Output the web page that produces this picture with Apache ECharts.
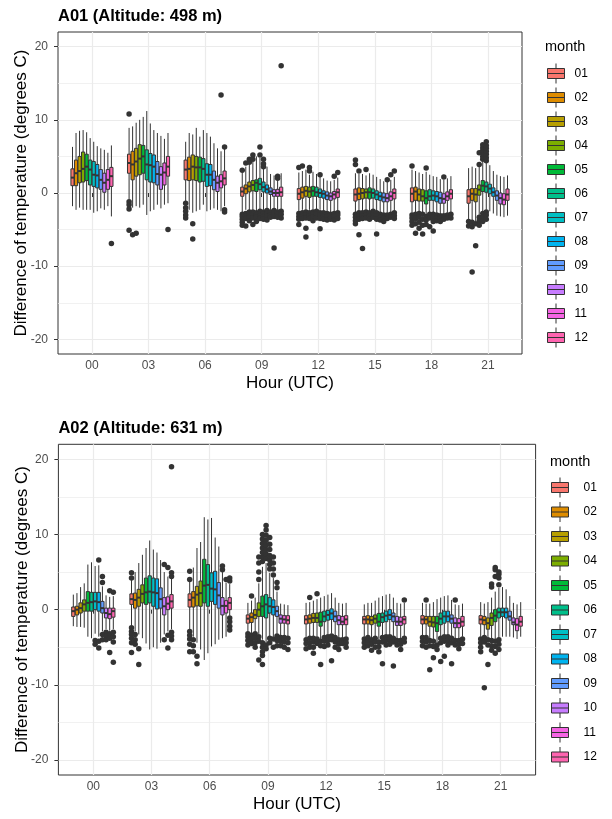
<!DOCTYPE html>
<html>
<head>
<meta charset="utf-8">
<title>Temperature difference by hour and month</title>
<script src="https://cdn.jsdelivr.net/npm/echarts@6/dist/echarts.min.js"></script>
<style>
  html, body { margin: 0; padding: 0; background: #ffffff; }
  #chart { width: 612px; height: 819px; }
</style>
</head>
<body>
<div id="chart"></div>
<script>
// ---- categories ----
const hours = ['00', '03', '06', '09', '12', '15', '18', '21'];
const months = ['01', '02', '03', '04', '05', '06', '07', '08', '09', '10', '11', '12'];
const monthColors = ['#F8766D', '#DE8C00', '#B79F00', '#7CAE00', '#00BA38', '#00C08B',
                     '#00BFC4', '#00B4F0', '#619CFF', '#C77CFF', '#F564E3', '#FF64B0'];
const yTicks = [-20, -10, 0, 10, 20];

// ---- station A01: one row per month, [lower whisker, Q1, median, Q3, upper whisker] ----
const a01H00 = [
  [-1.8, 1.0, 2.1, 3.3, 6.3], [-2.3, 1.0, 2.7, 4.5, 8.2], [-2.0, 1.4, 3.0, 5.0, 8.5], [-2.3, 1.5, 3.3, 5.6, 8.6],
  [-2.3, 1.7, 3.6, 5.3, 8.3], [-2.3, 1.1, 3.2, 4.5, 7.5], [-2.7, 0.9, 2.5, 4.3, 7.0], [-2.5, 0.7, 2.4, 3.9, 6.4],
  [-2.1, 0.5, 1.8, 3.2, 6.1], [-2.3, 0.1, 1.4, 2.7, 5.9], [-1.8, 0.5, 1.8, 3.2, 5.5], [-3.2, 0.9, 2.3, 3.5, 6.5]
];
const a01H03 = [
  [-0.9, 2.7, 4.1, 5.3, 8.9], [-2.0, 1.8, 3.9, 5.7, 9.1], [-1.8, 2.3, 4.3, 6.1, 9.6], [-2.0, 2.5, 4.7, 6.6, 10.0],
  [-1.6, 2.7, 5.0, 6.5, 10.4], [-3.0, 1.8, 3.9, 5.9, 11.2], [-2.5, 1.5, 3.8, 5.4, 9.5], [-2.3, 1.4, 3.6, 5.2, 8.6],
  [-1.6, 1.1, 2.6, 4.3, 8.2], [-2.1, 0.5, 2.5, 3.6, 7.8], [-1.6, 1.1, 2.8, 4.1, 7.4], [-1.4, 2.3, 3.6, 5.0, 8.2]
];
const a01H06 = [
  [-1.1, 1.8, 3.2, 4.5, 7.0], [-2.3, 1.7, 3.3, 4.9, 8.2], [-2.7, 1.8, 3.6, 5.2, 8.0], [-2.5, 1.7, 3.5, 5.0, 8.9],
  [-2.3, 1.5, 3.5, 4.9, 7.7], [-1.6, 1.6, 3.3, 4.7, 8.6], [-2.5, 0.9, 2.5, 4.0, 8.2], [-2.3, 1.0, 2.5, 3.9, 7.7],
  [-2.1, 0.45, 1.8, 3.0, 6.8], [-2.3, 0.2, 1.4, 2.3, 6.1], [-2.5, 0.7, 1.6, 2.5, 5.7], [-1.8, 1.1, 2.0, 3.0, 6.0]
];
const a01H09 = [
  [-2.7, -0.45, 0.2, 0.8, 2.8], [-2.3, -0.1, 0.6, 1.1, 3.6], [-2.5, 0.15, 0.9, 1.5, 3.9], [-2.3, 0.3, 1.1, 1.7, 4.3],
  [-2.5, 0.2, 1.4, 1.8, 5.0], [-2.3, 0.45, 1.2, 2.0, 4.8], [-2.3, 0.15, 0.8, 1.5, 3.3], [-2.1, 0.0, 0.5, 1.1, 3.6],
  [-2.3, -0.2, 0.2, 0.7, 2.6], [-2.1, -0.45, 0.0, 0.45, 2.4], [-2.3, -0.45, 0.0, 0.5, 1.8], [-2.5, -0.45, 0.1, 0.8, 2.7]
];
const a01H12 = [
  [-2.5, -0.9, -0.1, 0.6, 2.8], [-2.3, -0.7, 0.1, 0.8, 3.0], [-2.3, -0.45, 0.3, 0.9, 3.2], [-2.3, -0.6, 0.2, 0.8, 2.5],
  [-2.3, -0.45, 0.3, 0.9, 2.9], [-2.2, -0.45, 0.1, 0.8, 2.6], [-2.3, -0.6, 0.0, 0.55, 2.2], [-2.4, -0.7, -0.1, 0.3, 2.0],
  [-2.5, -0.9, -0.35, 0.15, 1.7], [-2.6, -1.0, -0.45, 0.0, 1.6], [-2.5, -0.8, -0.2, 0.2, 1.8], [-2.4, -0.6, 0.1, 0.55, 2.1]
];
const a01H15 = [
  [-2.6, -1.1, -0.2, 0.55, 2.7], [-2.4, -0.9, -0.1, 0.7, 2.6], [-2.4, -0.8, 0.0, 0.6, 2.6], [-2.3, -0.7, 0.1, 0.55, 2.4],
  [-2.4, -0.8, 0.1, 0.7, 2.7], [-2.2, -0.7, 0.0, 0.55, 2.5], [-2.4, -0.9, -0.2, 0.3, 2.2], [-2.6, -1.0, -0.45, 0.1, 1.9],
  [-2.7, -1.2, -0.6, 0.0, 1.6], [-2.7, -1.2, -0.7, -0.1, 1.5], [-2.6, -1.0, -0.45, 0.15, 1.8], [-2.4, -0.8, 0.0, 0.55, 2.2]
];
const a01H18 = [
  [-2.7, -1.2, -0.1, 0.7, 3.2], [-2.6, -1.0, 0.2, 0.8, 3.0], [-2.5, -1.1, -0.2, 0.55, 2.8], [-2.6, -1.1, -0.45, 0.45, 2.6],
  [-2.9, -1.5, -0.7, 0.3, 2.9], [-2.6, -1.0, -0.45, 0.45, 2.5], [-2.6, -1.0, -0.35, 0.3, 2.3], [-2.7, -1.2, -0.45, 0.2, 2.2],
  [-2.8, -1.4, -0.7, 0.1, 1.9], [-2.8, -1.4, -0.8, -0.1, 1.8], [-2.7, -1.0, -0.45, 0.15, 2.0], [-2.6, -0.8, -0.1, 0.45, 2.3]
];
const a01H21 = [
  [-3.6, -1.4, -0.45, 0.45, 3.4], [-3.7, -1.0, -0.1, 0.6, 3.6], [-3.9, -1.2, -0.2, 0.6, 3.4], [-3.0, -0.3, 0.45, 1.1, 3.6],
  [-2.5, 0.2, 1.0, 1.7, 4.3], [-2.3, 0.1, 0.9, 1.5, 4.1], [-2.5, -0.1, 0.6, 1.2, 3.8], [-2.8, -0.45, 0.1, 0.7, 3.0],
  [-3.1, -1.0, -0.35, 0.3, 2.5], [-3.2, -1.5, -0.7, 0.0, 2.3], [-3.3, -1.6, -0.9, -0.1, 2.2], [-3.1, -1.0, -0.2, 0.55, 2.4]
];
// outliers: [hour index, month, values...]
const a01Outliers = [
  [0, 1, 7.8, 7.5, 7.1, 6.7, -2.3], [0, 2, -3.5, -4.5, -4.9], [0, 12, -6.9],
  [1, 1, 10.8, -1.2, -1.6, -2.2, -5.1], [1, 2, -5.7], [1, 3, -5.5], [1, 12, -5.0],
  [2, 1, -1.4, -2.0, -2.5, -3.0, -3.4], [2, 3, -4.2, -6.3], [2, 11, 13.4], [2, 12, 6.3, -2.3, -2.6],
  [3, 1, 3.1, -2.9, -3.2, -3.6, -4.0, -4.4], [3, 2, 4.1, -2.8, -3.1, -3.5, -4.5], [3, 3, 4.2, 4.6, -2.6, -3.0, -3.3, -3.8],
  [3, 4, 5.2, 4.6, -2.6, -2.9, -3.4, -4.3], [3, 5, -2.7, -3.0, -3.3, -3.9], [3, 6, 6.3, 5.2, -2.5, -2.8, -3.1, -3.5],
  [3, 7, 4.6, 4.0, 3.6, -2.6, -2.9, -3.2, -3.6], [3, 8, -2.4, -2.8, -3.1, -3.7], [3, 9, -2.6, -3.0, -3.3],
  [3, 10, -2.4, -2.8, -3.2, -7.5], [3, 11, 2.3, 2.0, -2.6, -2.9, -3.3], [3, 12, 17.4, -2.5, -2.9, -3.4],
  [4, 1, 3.5, -2.8, -3.2, -3.6, -4.3], [4, 2, 3.7, -2.7, -3.1, -3.5], [4, 3, -2.6, -3.0, -3.4, -4.8, -6.0],
  [4, 4, 3.5, 3.0, -2.7, -3.1, -3.5], [4, 5, -2.6, -2.9, -3.3, -3.8], [4, 6, -2.5, -2.9, -3.4],
  [4, 7, 2.5, -2.7, -3.0, -3.5, -4.9], [4, 8, -2.7, -3.1, -3.6], [4, 9, -2.8, -3.2, -3.7],
  [4, 10, -2.9, -3.3, -3.6], [4, 11, 2.3, -2.8, -3.2, -3.7], [4, 12, 2.8, -2.7, -3.0, -3.5],
  [5, 1, 4.5, 3.9, -2.9, -3.3, -3.8, -4.2], [5, 2, 3.0, -2.7, -3.1, -3.6, -5.7], [5, 3, -2.7, -3.1, -3.5, -7.6],
  [5, 4, 3.2, -2.6, -3.0, -3.4], [5, 5, -2.7, -3.1, -3.6], [5, 6, -2.5, -2.9, -3.3],
  [5, 7, -2.7, -3.1, -3.6, -5.6], [5, 8, -2.9, -3.3, -3.7], [5, 9, -3.0, -3.4, -3.9],
  [5, 10, 1.8, -3.0, -3.5], [5, 11, 2.5, -2.9, -3.3], [5, 12, 3.0, -2.7, -3.1, -3.5],
  [6, 1, 3.7, -3.0, -3.4, -3.9, -4.4], [6, 2, -2.9, -3.5, -4.2, -5.5], [6, 3, -2.8, -3.3, -4.0, -4.8],
  [6, 4, -2.9, -3.6, -4.4, -5.6], [6, 5, 3.4, -3.2, -3.7, -4.3], [6, 6, -2.9, -3.4, -4.6],
  [6, 7, -2.9, -3.3, -3.9, -5.2], [6, 8, -3.0, -3.4, -3.8], [6, 9, -3.1, -3.5, -3.9],
  [6, 10, 2.2, -3.1, -3.6], [6, 11, -3.0, -3.4], [6, 12, -2.9, -3.4],
  [7, 1, -3.9, -4.5], [7, 2, -4.0, -4.6, -10.8], [7, 3, -4.2, -7.2],
  [7, 4, 3.9, 5.5, -3.3, -3.8, -4.4], [7, 5, 4.6, 5.0, 5.4, 5.8, 6.2, 6.6, -2.8, -3.3, -3.9],
  [7, 6, 4.4, 4.8, 5.3, 5.7, 6.1, 6.5, 7.0, -2.6, -3.0, -3.6], [7, 7, 4.2, 4.6, 5.0, 5.4, 5.9, 6.4, -2.8, -3.3],
  [7, 8, 3.4, 3.9, 4.3, 4.7, -3.1, -3.6, -4.1], [7, 9, -3.4, -3.9, -4.4], [7, 10, -3.5, -4.0, -5.5],
  [7, 11, -3.6, -4.0, -4.4], [7, 12, -3.4, -3.9, -4.3]
];

// ---- station A02 ----
const a02H00 = [
  [-2.2, -0.9, -0.2, 0.35, 2.0], [-2.3, -0.7, 0.0, 0.45, 2.2], [-2.3, -0.45, 0.2, 0.9, 3.0], [-2.4, -0.2, 0.7, 1.3, 3.5],
  [-3.6, -0.2, 0.9, 2.4, 6.0], [-3.8, -0.2, 1.0, 2.3, 6.3], [-3.2, 0.0, 1.1, 2.3, 5.8], [-3.6, -0.2, 1.0, 2.3, 5.9],
  [-2.9, -0.45, 0.2, 1.1, 3.1], [-2.6, -1.1, -0.45, 0.2, 1.9], [-2.8, -1.2, -0.6, 0.2, 1.7], [-2.6, -1.0, -0.2, 0.2, 1.8]
];
const a02H03 = [
  [-2.2, 0.7, 1.4, 2.1, 4.0], [-2.9, 0.2, 1.3, 2.2, 5.0], [-3.3, 0.45, 1.6, 2.7, 6.2], [-3.8, 0.9, 2.1, 3.3, 7.3],
  [-4.5, 0.7, 2.3, 4.2, 8.2], [-5.3, 0.9, 2.4, 4.5, 9.2], [-5.0, 0.45, 2.3, 4.2, 8.0], [-5.2, 0.1, 2.2, 4.1, 7.6],
  [-4.4, 0.2, 1.4, 2.9, 6.6], [-3.3, -0.7, 0.45, 1.6, 5.0], [-2.9, 0.0, 0.8, 1.7, 4.4], [-2.6, 0.2, 1.1, 2.0, 4.2]
];
const a02H06 = [
  [-2.7, 0.35, 1.3, 2.1, 3.8], [-3.6, 0.35, 1.6, 2.4, 5.6], [-4.4, 0.5, 2.0, 3.1, 8.2], [-5.3, 0.45, 2.2, 3.8, 9.0],
  [-6.7, 0.9, 3.2, 6.7, 12.3], [-5.8, 0.45, 3.3, 6.0, 12.0], [-4.9, 1.1, 2.8, 4.9, 12.2], [-4.6, 0.7, 2.7, 5.1, 9.6],
  [-4.0, 0.2, 1.9, 3.6, 8.4], [-3.8, -0.7, 0.5, 1.6, 5.0], [-3.6, -0.45, 0.5, 1.2, 3.6], [-0.8, 0.0, 0.9, 1.6, 3.4]
];
const a02H09 = [
  [-2.9, -1.8, -1.2, -0.7, 0.9], [-3.1, -1.7, -1.0, -0.45, 1.2], [-2.9, -1.2, -0.7, 0.0, 1.6], [-3.3, -0.9, 0.0, 0.9, 3.5],
  [-4.0, -0.9, 0.45, 1.8, 5.7], [-4.4, -1.1, 0.7, 2.0, 6.2], [-3.6, -0.45, 0.45, 1.6, 4.9], [-3.6, -0.7, 0.35, 1.3, 4.2],
  [-3.2, -0.9, -0.2, 0.45, 2.4], [-3.4, -1.8, -1.2, -0.7, 0.8], [-3.4, -1.8, -1.3, -0.8, 0.7], [-3.5, -1.9, -1.4, -0.8, 0.6]
];
const a02H12 = [
  [-3.7, -1.9, -1.3, -0.8, 0.9], [-3.5, -1.8, -1.2, -0.7, 1.0], [-3.5, -1.7, -1.1, -0.5, 1.2], [-3.6, -1.7, -1.1, -0.45, 1.4],
  [-3.9, -2.2, -1.6, -0.35, 1.6], [-3.4, -1.6, -0.9, -0.2, 1.8], [-3.3, -1.4, -0.7, -0.1, 2.0], [-3.2, -1.3, -0.5, 0.1, 2.2],
  [-3.4, -1.6, -0.9, -0.2, 1.6], [-3.7, -2.0, -1.4, -0.8, 0.9], [-3.7, -2.0, -1.6, -0.9, 0.8], [-3.6, -2.0, -1.3, -0.8, 0.9]
];
const a02H15 = [
  [-3.6, -1.9, -1.3, -0.9, 0.7], [-3.4, -1.9, -1.3, -0.8, 0.9], [-3.7, -2.0, -1.4, -0.9, 0.9], [-3.5, -1.8, -1.2, -0.7, 1.2],
  [-4.0, -2.2, -1.6, -0.5, 1.6], [-3.4, -1.7, -1.0, -0.45, 1.8], [-3.3, -1.6, -0.8, -0.2, 2.0], [-3.3, -1.3, -0.7, 0.0, 2.1],
  [-3.5, -1.6, -0.9, -0.45, 1.6], [-3.8, -2.1, -1.6, -0.9, 0.9], [-3.8, -2.1, -1.6, -1.0, 0.8], [-3.5, -1.9, -1.3, -0.9, 0.9]
];
const a02H18 = [
  [-3.4, -1.9, -1.3, -0.8, 0.9], [-3.4, -1.9, -1.3, -0.9, 0.8], [-3.8, -2.2, -1.6, -0.9, 0.8], [-3.9, -2.3, -1.7, -0.9, 1.0],
  [-4.4, -2.9, -1.8, -0.9, 1.4], [-3.5, -2.0, -1.2, -0.45, 1.6], [-3.3, -1.8, -0.9, -0.2, 1.8], [-3.3, -1.6, -0.9, -0.2, 1.9],
  [-3.5, -1.8, -1.2, -0.7, 1.3], [-3.8, -2.4, -1.8, -1.1, 0.7], [-3.8, -2.4, -1.8, -1.2, 0.6], [-3.6, -2.2, -1.6, -0.9, 0.8]
];
const a02H21 = [
  [-3.6, -1.9, -1.3, -0.8, 1.0], [-3.4, -2.0, -1.4, -0.9, 0.8], [-3.7, -2.6, -1.8, -1.1, 1.0], [-3.8, -2.1, -1.1, -0.45, 1.6],
  [-3.9, -1.6, -0.8, 0.0, 2.4], [-3.7, -1.1, -0.35, 0.2, 2.9], [-3.6, -0.9, -0.35, 0.2, 3.0], [-3.6, -1.1, -0.35, 0.2, 2.7],
  [-3.6, -1.4, -0.9, -0.2, 1.8], [-3.7, -2.0, -1.7, -1.1, 0.9], [-3.9, -2.8, -2.0, -1.2, 0.7], [-3.6, -2.2, -1.6, -0.9, 1.0]
];
const a02Outliers = [
  [0, 1, 2.5, -2.6, -3.0, -3.4, -4.0, -7.3], [0, 2, 3.2, -2.8, -3.3, -3.9, -5.9], [0, 3, 3.8, -3.0, -3.5, -4.2],
  [0, 4, 5.0, -3.1, -3.6, -4.4], [0, 5, -4.2, -4.7], [0, 6, 7.1, -4.4, -5.0], [0, 7, -4.1, -4.6],
  [0, 8, 6.6, -4.2, -5.1], [0, 9, 4.4, 3.6, -3.3, -4.0], [0, 10, -3.0, -3.5, -4.0],
  [0, 11, 2.5, -3.2, -3.8, -5.7], [0, 12, 2.3, -3.0, -3.6, -4.3, -7.0],
  [1, 1, 4.2, 4.9, -2.4, -2.9, -3.3, -3.8, -4.4, -5.7], [1, 2, -3.3, -4.0, -4.6], [1, 3, -5.2, -7.3],
  [1, 10, 6.0, -4.0], [1, 11, 5.6, -3.4, -5.1], [1, 12, 4.4, 4.9, 19.0, -3.0, -3.5, -4.0],
  [2, 1, 4.0, 5.1, -2.9, -3.4, -3.9, -4.6, -5.6], [2, 2, -4.0, -4.8, -5.6], [2, 3, -6.2, -7.2],
  [2, 10, 5.3, 5.8], [2, 11, 4.0], [2, 12, 3.8, 4.2, -1.1, -1.6, -2.2, -2.7],
  [3, 1, -3.2, -3.6, -4.1, -4.7], [3, 2, 1.8, -3.4, -3.9, -4.5], [3, 3, -3.2, -3.8, -4.4, -5.0],
  [3, 4, 4.0, 5.0, 6.2, 7.0, -3.6, -4.2, -6.7],
  [3, 5, 6.4, 7.0, 7.6, 8.2, 8.8, 9.4, 10.0, -4.4, -5.0, -5.6, -6.1, -7.3],
  [3, 6, 6.8, 7.4, 8.0, 8.6, 9.2, 9.9, 10.6, 11.2, -4.7, -5.2],
  [3, 7, 5.4, 6.0, 6.6, 7.2, 8.0, 8.7, 9.6, -3.8, -4.4], [3, 8, 4.6, 5.4, 6.2, 7.0, -3.9, -5.0],
  [3, 9, 2.9, 3.6, -3.5, -4.1, -4.8], [3, 10, -3.7, -4.2, -4.8], [3, 11, -3.7, -4.3, -5.0], [3, 12, -3.8, -4.4, -5.3],
  [4, 1, -4.0, -4.5, -5.2], [4, 2, 1.6, -3.8, -4.4, -5.0], [4, 3, -3.8, -4.3, -5.0, -5.8],
  [4, 4, 2.1, -3.9, -4.5], [4, 5, -4.2, -4.8, -7.3], [4, 6, -3.7, -4.2, -4.9], [4, 7, -3.6, -4.1, -4.7],
  [4, 8, -3.5, -4.0, -6.8], [4, 9, -3.7, -4.3, -5.0], [4, 10, -4.0, -4.6, -5.3], [4, 11, -4.0, -4.5],
  [4, 12, -3.9, -4.4, -5.0],
  [5, 1, -3.9, -4.4, -5.0], [5, 2, -3.7, -4.2, -4.8], [5, 3, -4.0, -4.6, -5.4], [5, 4, -3.8, -4.3, -5.0],
  [5, 5, -4.3, -4.9, -5.6], [5, 6, -3.7, -4.3, -7.2], [5, 7, -3.6, -4.1, -4.7], [5, 8, -3.6, -4.0, -4.6],
  [5, 9, -3.8, -4.3, -7.5], [5, 10, -4.1, -4.7], [5, 11, -4.1, -4.6, -5.3], [5, 12, 1.3, -3.8, -4.3],
  [6, 1, -3.7, -4.2, -4.8], [6, 2, 1.3, -3.7, -4.3, -5.0], [6, 3, -4.1, -4.8, -8.0], [6, 4, -4.2, -4.9, -6.4],
  [6, 5, -4.7, -5.3], [6, 6, -3.8, -4.4, -6.9], [6, 7, -3.6, -4.2, -6.2], [6, 8, -3.6, -4.1, -4.7],
  [6, 9, -3.8, -4.4, -7.2], [6, 10, 1.3, -4.1, -4.7], [6, 11, -4.1, -4.6, -5.2], [6, 12, -3.9, -4.5],
  [7, 1, -3.9, -4.4, -5.0, -5.6], [7, 2, -3.7, -4.3, -10.4], [7, 3, -4.0, -4.7, -7.3],
  [7, 4, 3.0, 3.4, -4.1, -4.8, -5.4], [7, 5, 4.4, 5.3, 5.6, -4.2, -4.9, -5.8],
  [7, 6, 3.3, 4.2, 4.7, 5.0, -4.0, -4.6, -5.3], [7, 7, 4.0, 5.1, 6.4, 6.8, 7.3, -3.9, -4.5, -5.1],
  [7, 8, 3.6, 4.4, 5.9, -3.9, -4.4], [7, 9, -3.9, -4.4, -5.0], [7, 10, -4.0, -4.6, -7.0],
  [7, 11, -4.2, -4.8, -7.6, -8.2], [7, 12, 1.3, -3.9, -4.5, -5.2]
];

// ---- layout of the two panels (pixels) ----
const FONT = '"Liberation Sans", Arial, sans-serif';
const panels = [
  {
    title: 'A01 (Altitude: 498 m)', byHour: [a01H00, a01H03, a01H06, a01H09, a01H12, a01H15, a01H18, a01H21],
    outliers: a01Outliers,
    frame: { left: 58, top: 32, width: 464, height: 322 },
    titleTop: 8, legendLeft: 547, legendTop: 63, legendGap: 3, legendTitleLeft: 545, legendTitleTop: 39, legendTextPad: 5
  },
  {
    title: 'A02 (Altitude: 631 m)', byHour: [a02H00, a02H03, a02H06, a02H09, a02H12, a02H15, a02H18, a02H21],
    outliers: a02Outliers,
    frame: { left: 58.4, top: 444.3, width: 477.2, height: 330.7 },
    titleTop: 420, legendLeft: 551, legendTop: 477, legendGap: 3.5, legendTitleLeft: 550, legendTitleTop: 454, legendTextPad: 10
  }
];

const Y_MIN = -22, Y_MAX = 22;   // plotted range incl. padding
const X_PAD = 0.6;               // padding of the discrete axis, in categories
const DODGE = 0.75 / 12;         // slot width of one month inside an hour group
const BOX_FRAC = 0.9;
const DARK = '#333333';

function boxRenderer(mi, fill) {
  return function (params, api) {
    const x = api.value(0) + (mi - 5.5) * DODGE;
    const pLo = api.coord([x, api.value(1)]);
    const pQ1 = api.coord([x, api.value(2)]);
    const pMd = api.coord([x, api.value(3)]);
    const pQ3 = api.coord([x, api.value(4)]);
    const pHi = api.coord([x, api.value(5)]);
    const half = api.size([DODGE * BOX_FRAC, 0])[0] / 2;
    const cx = pMd[0];
    const line = { stroke: DARK, lineWidth: 1 };
    return {
      type: 'group',
      children: [
        { type: 'line', shape: { x1: cx, y1: pHi[1], x2: cx, y2: pQ3[1] }, style: line },
        { type: 'line', shape: { x1: cx, y1: pQ1[1], x2: cx, y2: pLo[1] }, style: line },
        { type: 'rect', shape: { x: cx - half, y: pQ3[1], width: half * 2, height: pQ1[1] - pQ3[1] },
          style: { fill: fill, stroke: DARK, lineWidth: 1 } },
        { type: 'line', shape: { x1: cx - half, y1: pMd[1], x2: cx + half, y2: pMd[1] },
          style: { stroke: DARK, lineWidth: 2 } }
      ]
    };
  };
}

// legend glyph: filled box with median bar and whisker stubs
const boxIcon = 'path://M0,5 L17,5 L17,15 L0,15 Z M8.5,0 L8.5,5 M8.5,15 L8.5,20 M0,10 L17,10';

const option = {
  animation: false,
  backgroundColor: '#ffffff',
  textStyle: { fontFamily: FONT },
  title: [], legend: [], grid: [], xAxis: [], yAxis: [], series: []
};

panels.forEach(function (p, pi) {
  const f = p.frame;
  const ppu = f.height / (Y_MAX - Y_MIN);
  const bw = f.width / (hours.length - 1 + 2 * X_PAD);
  const gFrame = pi * 3, gTick = pi * 3 + 1, gData = pi * 3 + 2;

  option.title.push({
    text: p.title, left: f.left, top: p.titleTop, padding: 0,
    textStyle: { fontFamily: FONT, fontSize: 16.5, fontWeight: 'bold', color: '#000' }
  });
  option.title.push({
    text: 'month', left: p.legendTitleLeft, top: p.legendTitleTop, padding: 0,
    textStyle: { fontFamily: FONT, fontSize: 14.5, fontWeight: 'normal', color: '#000' }
  });

  // panel frame
  option.grid.push({ left: f.left, top: f.top, width: f.width, height: f.height, show: true,
    borderColor: DARK, borderWidth: 1, backgroundColor: '#ffffff', containLabel: false, outerBoundsMode: 'none' });
  // horizontal grid lines, y ticks and labels (span -20..20)
  option.grid.push({ left: f.left, top: f.top + (Y_MAX - yTicks[yTicks.length - 1]) * ppu,
    width: f.width, height: (yTicks[yTicks.length - 1] - yTicks[0]) * ppu, containLabel: false, outerBoundsMode: 'none' });
  // data area: x from first to last hour
  option.grid.push({ left: f.left + X_PAD * bw, top: f.top, width: (hours.length - 1) * bw, height: f.height,
    containLabel: false, outerBoundsMode: 'none' });

  option.xAxis.push({ gridIndex: gFrame, type: 'value', show: false, min: 0, max: 1 });
  option.xAxis.push({ gridIndex: gTick, type: 'value', show: false, min: 0, max: 1 });
  option.xAxis.push({
    gridIndex: gData, type: 'value', min: 0, max: hours.length - 1, interval: 1,
    axisLine: { show: false },
    axisTick: { show: true, length: 4, lineStyle: { color: DARK, width: 1 } },
    axisLabel: { show: true, margin: 6, color: '#4d4d4d', fontSize: 12, fontFamily: FONT,
      formatter: function (v) { return hours[v] !== undefined ? hours[v] : ''; } },
    splitLine: { show: true, lineStyle: { color: '#ebebeb', width: 1.2 } },
    name: 'Hour (UTC)', nameLocation: 'middle', nameGap: 21, nameMoveOverlap: false,
    nameTextStyle: { fontFamily: FONT, fontSize: 17, color: '#000' }
  });

  option.yAxis.push({ gridIndex: gFrame, type: 'value', show: false, min: 0, max: 1 });
  option.yAxis.push({
    gridIndex: gTick, type: 'value', min: yTicks[0], max: yTicks[yTicks.length - 1], interval: 10,
    axisLine: { show: false },
    axisTick: { show: true, length: 4, lineStyle: { color: DARK, width: 1 } },
    axisLabel: { margin: 10, color: '#4d4d4d', fontSize: 12, fontFamily: FONT },
    splitLine: { show: true, lineStyle: { color: '#ebebeb', width: 1.2 } },
    minorTick: { show: false, splitNumber: 2 },
    minorSplitLine: { show: true, lineStyle: { color: '#ebebeb', width: 0.7 } },
    name: 'Difference of temperature (degrees C)', nameLocation: 'middle', nameGap: 28, nameMoveOverlap: false,
    nameTextStyle: { fontFamily: FONT, fontSize: 17, color: '#000' }
  });
  option.yAxis.push({ gridIndex: gData, type: 'value', show: false, min: Y_MIN, max: Y_MAX });

  // outlying observations, placed in their month's slot
  const pts = [];
  p.outliers.forEach(function (row) {
    const x = row[0] + (row[1] - 1 - 5.5) * DODGE;
    for (let k = 2; k < row.length; k++) pts.push([x, row[k]]);
  });
  option.series.push({
    type: 'scatter', name: 'outlier', xAxisIndex: pi * 3 + 2, yAxisIndex: gData,
    data: pts, symbol: 'circle', symbolSize: 5.5, itemStyle: { color: DARK, opacity: 1 },
    silent: true, z: 1, emphasis: { disabled: true }
  });

  // one box series per month
  months.forEach(function (m, mi) {
    option.series.push({
      type: 'custom', name: m, xAxisIndex: pi * 3 + 2, yAxisIndex: gData,
      data: p.byHour.map(function (rows, hi) { return [hi].concat(rows[mi]); }),
      encode: { x: 0, y: [1, 2, 3, 4, 5] },
      itemStyle: { color: monthColors[mi] },
      renderItem: boxRenderer(mi, monthColors[mi]),
      silent: true, z: 2
    });
  });

  option.legend.push({
    orient: 'vertical', left: p.legendLeft, top: p.legendTop, padding: 0,
    itemWidth: 17, itemHeight: 20, itemGap: p.legendGap, selectedMode: false,
    textStyle: { fontFamily: FONT, fontSize: 12, color: '#000', padding: [0, 0, 0, p.legendTextPad] },
    data: months.map(function (m, mi) {
      return { name: m, icon: boxIcon,
        itemStyle: { color: monthColors[mi], borderColor: DARK, borderWidth: 1 } };
    })
  });
});

const chart = echarts.init(document.getElementById('chart'), null, { renderer: 'canvas' });
chart.setOption(option);
</script>
</body>
</html>
